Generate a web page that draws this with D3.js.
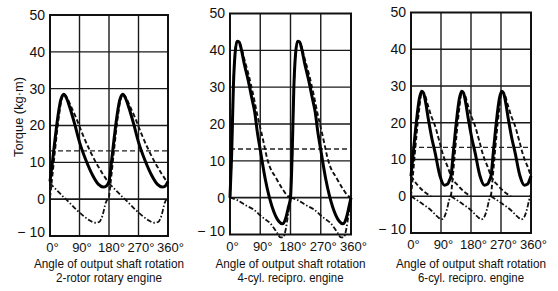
<!DOCTYPE html>
<html lang="en">
<head>
  <meta charset="utf-8">
  <title>Torque vs output shaft angle</title>
  <script src="https://cdn.jsdelivr.net/npm/d3@7"></script>
  <style>
    body { margin: 0; background: #fff; }
    text { font-family: "Liberation Sans", Arial, sans-serif; fill: #111; }
  </style>
</head>
<body>
  <svg class="chart" width="558" height="291"></svg>
  <script>
    // tick labels and captions
    var angleTicks = [0, 90, 180, 270, 360];
    var torqueTicks = [-10, 0, 10, 20, 30, 40, 50];
    var captions = ["2-rotor rotary engine", "4-cyl. recipro. engine", "6-cyl. recipro. engine"];
    var meanTorque = [13.1, 13.2, 13.3];

    // 2-rotor rotary : [angle, torque]
    var rotaryTotal = [[0,4.8],[8,10.5],[15,16],[25,23],[33,27],[42,28.5],[50,27.5],[60,25],[75,20.5],[90,15.5],[110,10.5],[130,6.5],[148,4],[162,3.3],[172,3.6],[180,4.8],
      [188,10.5],[195,16],[205,23],[213,27],[222,28.5],[230,27.5],[240,25],[255,20.5],[270,15.5],[290,10.5],[310,6.5],[328,4],[342,3.3],[352,3.6],[360,4.8]];
    var rotaryGas = [
      [[0,0.5],[8,7],[15,13],[25,21],[33,26],[43,28.5],[52,27.5],[65,25],[80,22],[100,17.5],[120,13.5],[140,10],[160,7],[180,4.3]],
      [[180,0.5],[188,7],[195,13],[205,21],[213,26],[223,28.5],[232,27.5],[245,25],[260,22],[280,17.5],[300,13.5],[320,10],[340,7],[360,4.3]]];
    var rotaryComp = [
      [[0,4.3],[20,2.5],[40,0.7],[60,-1],[80,-2.8],[100,-4.4],[120,-5.7],[138,-6.4],[150,-6.2],[160,-4.5],[170,-1],[180,0.5]],
      [[180,4.3],[200,2.5],[220,0.7],[240,-1],[260,-2.8],[280,-4.4],[300,-5.7],[318,-6.4],[330,-6.2],[340,-4.5],[350,-1],[360,0.5]]];

    // 4-cyl reciprocating
    var cyl4Total = [[0,0],[5,12],[10,30],[15,39],[21,42.5],[27,42.3],[33,40.5],[42,36.5],[55,31.5],[65,27],[74,23],[81,18],[90,13],[105,5],[125,-2.4],[145,-6.4],[156,-7.1],[166,-5.5],[174,-2.5],[180,0],
      [185,12],[190,30],[195,39],[201,42.5],[207,42.3],[213,40.5],[222,36.5],[235,31.5],[245,27],[254,23],[261,18],[270,13],[285,5],[305,-2.4],[325,-6.4],[336,-7.1],[346,-5.5],[354,-2.5],[360,0]];
    var cyl4Gas = [
      [[0,0],[5,12],[10,30],[15,39],[21,42.5],[27,42.4],[33,41],[42,37.8],[55,33.5],[70,27.5],[80,23],[90,19],[100,15],[109,11.2],[120,8],[134,5.8],[155,2.5],[170,0.6],[180,0]],
      [[180,0],[185,12],[190,30],[195,39],[201,42.5],[207,42.4],[213,41],[222,37.8],[235,33.5],[250,27.5],[260,23],[270,19],[280,15],[289,11.2],[300,8],[314,5.8],[335,2.5],[350,0.6],[360,0]]];
    var cyl4Comp = [
      [[0,0],[20,-0.6],[45,-2],[70,-3.2],[95,-5.2],[120,-7],[140,-9.5],[150,-10.8],[158,-10.8],[166,-8.5],[173,-4.5],[180,0]],
      [[180,0],[200,-0.6],[225,-2],[250,-3.2],[275,-5.2],[300,-7],[320,-9.5],[330,-10.8],[338,-10.8],[346,-8.5],[353,-4.5],[360,0]]];

    // 6-cyl reciprocating
    var cyl6Total = [[0,5.5],[7,12],[17,21],[25,26.5],[32,28.6],[38,28],[45,25],[52,21],[62,16],[72,12],[87,5.5],[100,3],[110,3.3],[116,4.5],[120,5.5],
      [127,12],[137,21],[145,26.5],[152,28.6],[158,28],[165,25],[172,21],[182,16],[192,12],[207,5.5],[220,3],[230,3.3],[236,4.5],[240,5.5],
      [247,12],[257,21],[265,26.5],[272,28.6],[278,28],[285,25],[292,21],[302,16],[312,12],[327,5.5],[340,3],[350,3.3],[356,4.5],[360,5.5]];
    var cyl6Gas = [
      [[0,5.5],[20,3],[40,1.2],[60,0]],
      [[0,0],[7,7],[17,17],[25,24],[33,28.6],[40,28],[50,25],[60,22],[72,19.2],[85,15],[97,11],[110,8],[120,5.5],[140,3],[160,1.2],[180,0]],
      [[120,0],[127,7],[137,17],[145,24],[153,28.6],[160,28],[170,25],[180,22],[192,19.2],[205,15],[217,11],[230,8],[240,5.5],[260,3],[280,1.2],[300,0]],
      [[240,0],[247,7],[257,17],[265,24],[273,28.6],[280,28],[290,25],[300,22],[312,19.2],[325,15],[337,11],[350,8],[360,5.5]]];
    var cyl6Comp = [
      [[0,0],[30,-1.8],[60,-3.8],[80,-5.6],[91,-6.3],[100,-5.6],[108,-3.5],[114,-1.2],[120,0.5]],
      [[120,0],[150,-1.8],[180,-3.8],[200,-5.6],[211,-6.3],[220,-5.6],[228,-3.5],[234,-1.2],[240,0.5]],
      [[240,0],[270,-1.8],[300,-3.8],[320,-5.6],[331,-6.3],[340,-5.6],[348,-3.5],[354,-1.2],[360,0.5]]];

    var panels = [
      { left: 50, right: 168, top: 15, bottom: 236, total: rotaryTotal, gas: rotaryGas, comp: rotaryComp },
      { left: 230, right: 351, top: 13.5, bottom: 234.5, total: cyl4Total, gas: cyl4Gas, comp: cyl4Comp },
      { left: 411, right: 531, top: 12.5, bottom: 233, total: cyl6Total, gas: cyl6Gas, comp: cyl6Comp }
    ];

    var svg = d3.select("svg.chart");
    svg.append("rect").attr("width", 558).attr("height", 291).attr("fill", "#fff");

    panels.forEach(function(p, i) {
      var x = d3.scaleLinear().domain([0, 360]).range([p.left, p.right]);
      var y = d3.scaleLinear().domain([-10, 50]).range([p.bottom, p.top]);
      var g = svg.append("g");

      // grid
      g.selectAll(".hg").data([0, 10, 20, 30, 40]).enter().append("line")
        .attr("x1", x(0)).attr("x2", x(360))
        .attr("y1", function(d) { return y(d); }).attr("y2", function(d) { return y(d); })
        .attr("stroke", "#1a1a1a").attr("stroke-width", function(d) { return d === 0 ? 1.7 : 1.4; });
      g.selectAll(".vg").data([90, 180, 270]).enter().append("line")
        .attr("y1", y(-10)).attr("y2", y(50))
        .attr("x1", function(d) { return x(d); }).attr("x2", function(d) { return x(d); })
        .attr("stroke", "#1a1a1a").attr("stroke-width", 1.4);
      g.append("rect")
        .attr("x", x(0)).attr("y", y(50))
        .attr("width", x(360) - x(0)).attr("height", y(-10) - y(50))
        .attr("fill", "none").attr("stroke", "#111").attr("stroke-width", 2);

      // mean torque
      g.append("line")
        .attr("x1", x(0)).attr("x2", x(360))
        .attr("y1", y(meanTorque[i])).attr("y2", y(meanTorque[i]))
        .attr("stroke", "#222").attr("stroke-width", 1.4).attr("stroke-dasharray", "5,3");

      var line = d3.line()
        .curve(d3.curveMonotoneX)
        .x(function(d) { return x(d[0]); })
        .y(function(d) { return y(d[1]); });

      g.selectAll(".gas").data(p.gas).enter().append("path")
        .attr("d", line).attr("fill", "none")
        .attr("stroke", "#111").attr("stroke-width", 1.9).attr("stroke-dasharray", "4.5,2.5");
      g.selectAll(".comp").data(p.comp).enter().append("path")
        .attr("d", line).attr("fill", "none")
        .attr("stroke", "#111").attr("stroke-width", 1.8).attr("stroke-dasharray", "5,2,1.5,2");
      g.append("path")
        .datum(p.total)
        .attr("d", line).attr("fill", "none")
        .attr("stroke", "#000").attr("stroke-width", 3).attr("stroke-linejoin", "round");

      // axes
      var ya = g.append("g").attr("transform", "translate(" + (x(0) - 2) + ",0)")
        .call(d3.axisLeft(y).tickValues(torqueTicks).tickSize(0)
          .tickFormat(function(d) { return d < 0 ? "\u2212 " + Math.abs(d) : d; }));
      ya.select(".domain").remove();
      ya.selectAll("text").attr("font-size", 14).attr("font-family", null)
        .attr("dy", function(d) { return d < 0 ? "0.05em" : "0.32em"; });

      var xa = g.append("g").attr("transform", "translate(0," + (y(-10) + 4) + ")")
        .call(d3.axisBottom(x).tickValues(angleTicks).tickSize(0)
          .tickFormat(function(d) { return d + "\u00b0"; }));
      xa.select(".domain").remove();
      xa.selectAll("text").attr("font-size", 13).attr("font-family", null).attr("dx", "0.15em");

      var cx = (x(0) + x(360)) / 2;
      g.append("text").attr("x", cx).attr("y", 268).attr("text-anchor", "middle")
        .attr("font-size", 12).attr("textLength", 150).attr("lengthAdjust", "spacingAndGlyphs")
        .text("Angle of output shaft rotation");
      g.append("text").attr("x", cx).attr("y", 282).attr("text-anchor", "middle")
        .attr("font-size", 12).attr("textLength", 106).attr("lengthAdjust", "spacingAndGlyphs")
        .text(captions[i]);
    });

    svg.append("text")
      .attr("transform", "translate(23,117) rotate(-90)")
      .attr("text-anchor", "middle").attr("font-size", 12)
      .attr("textLength", 80).attr("lengthAdjust", "spacingAndGlyphs")
      .text("Torque (kg\u00b7m)");
  </script>
</body>
</html>
